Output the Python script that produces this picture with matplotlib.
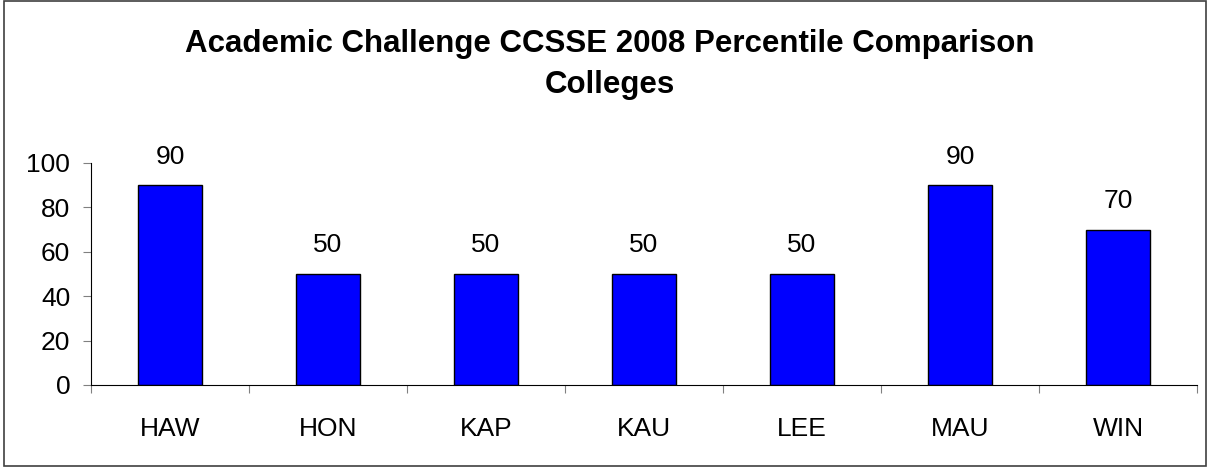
import matplotlib
matplotlib.use("Agg")
import matplotlib.pyplot as plt
import numpy as np
from matplotlib.patches import Rectangle

categories = ["HAW", "HON", "KAP", "KAU", "LEE", "MAU", "WIN"]
values = [90, 50, 50, 50, 50, 90, 70]
yticks = [0, 20, 40, 60, 80, 100]
title_lines = ["Academic Challenge CCSSE 2008 Percentile Comparison", "Colleges"]

plt.rcParams['font.family'] = ['Liberation Sans', 'DejaVu Sans']

fig = plt.figure(figsize=(12.1, 4.67), dpi=100)
fig.patches.append(Rectangle((0.003, 0.003), 0.994, 0.994, transform=fig.transFigure,
                             fill=False, edgecolor='#404040', linewidth=1.2))
ax = fig.add_axes([0.0752, 0.1756, 0.9141, 0.4754])

x = np.arange(len(categories))
bars = ax.bar(x, values, width=0.4, color='#0000FF', edgecolor='black', linewidth=1.0)
for xi, v in zip(x, values):
    ax.annotate(str(v), (xi, v), xytext=(0, 12), textcoords='offset points',
                ha='center', va='bottom', fontsize=19)

ax.set_xlim(-0.5, len(categories) - 0.5)
ax.set_ylim(0, 100)
ax.set_yticks(yticks)
ax.set_yticklabels([str(t) for t in yticks], fontsize=19)
ax.set_xticks(np.arange(len(categories) + 1) - 0.5)
ax.set_xticklabels([])
ax.set_xticks(x, minor=True)
ax.set_xticklabels(categories, minor=True, fontsize=19)
ax.tick_params(axis='x', which='major', length=6, color='#808080', direction='out')
ax.tick_params(axis='x', which='minor', length=0, pad=23)
ax.tick_params(axis='y', length=6, color='#808080', direction='out', pad=9)
ax.spines['top'].set_visible(False)
ax.spines['right'].set_visible(False)
ax.spines['left'].set_color('black')
ax.spines['bottom'].set_color('black')

for line, ypix in zip(title_lines, [52, 93]):
    fig.text(0.504, 1 - ypix / 467, line, ha='center', va='baseline',
             fontsize=22.5, fontweight='bold')

fig.savefig("out.png", dpi=100)
